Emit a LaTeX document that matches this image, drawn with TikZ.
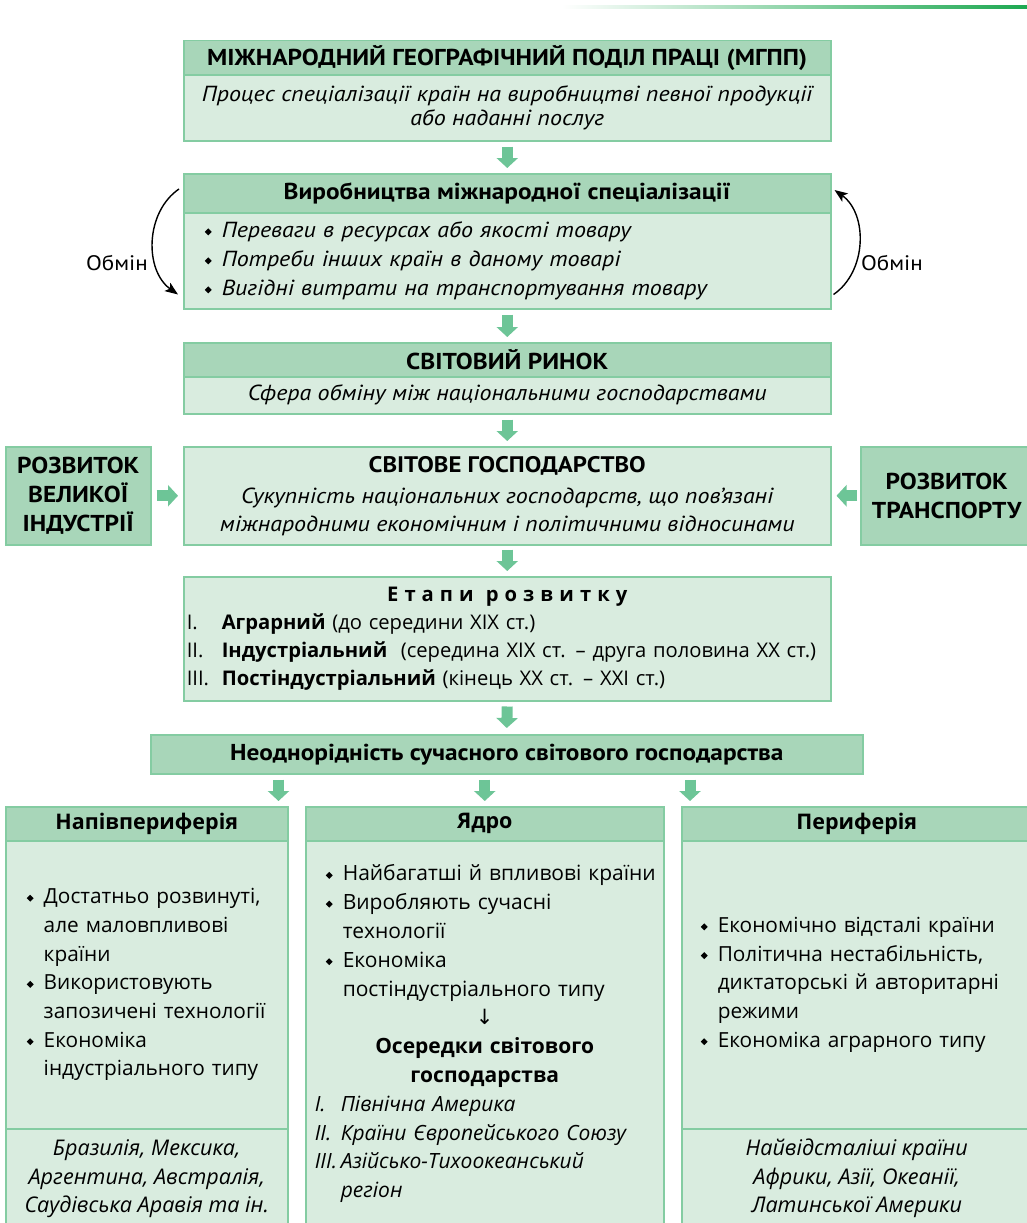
\documentclass[tikz,border=0pt]{standalone}
\usepackage{fontspec}
\setmainfont{PT Sans}[FakeStretch=1.1]
\newfontfamily\osans{Open Sans}
\newfontfamily\osanssp[LetterSpace=30]{Open Sans}
\newfontfamily\symfont{DejaVu Sans}
\usetikzlibrary{arrows.meta}
\usetikzlibrary{calc}
\definecolor{ghead}{HTML}{A8D6B9}
\definecolor{gbody}{HTML}{D9ECDF}
\definecolor{gline}{HTML}{84CCA2}
\definecolor{garr}{HTML}{6DC597}
\definecolor{gtop}{HTML}{1DA851}
\newcommand{\dia}{\raisebox{2.1pt}{\rotatebox{45}{\rule{4.9pt}{4.9pt}}}}
\newcommand{\itm}[1]{\mbox{\makebox[17pt][l]{\dia}#1}}
\newcommand{\cnt}[1]{\mbox{\hspace*{17pt}#1}}
\tikzset{
    hbox/.style = {rectangle, draw=gline, fill=ghead, line width=1.5pt, anchor=north west, align=center, inner sep=0pt, font=\fontsize{23}{29}\selectfont\bfseries},
    bbox/.style = {rectangle, draw=gline, fill=gbody, line width=1.5pt, anchor=north west, align=center, inner sep=0pt, font=\fontsize{21.8}{24}\selectfont\itshape},
    lhbox/.style = {hbox, font=\osans\fontsize{21.5}{24}\selectfont\bfseries},
    lbbox/.style = {bbox, align=left, font=\osans\fontsize{20.8}{28.7}\selectfont},
    lfbox/.style = {bbox, font=\osans\fontsize{21.6}{28.5}\selectfont\itshape},
    garrow/.style = {-{Triangle[length=10pt,width=21pt]}, line width=11pt, draw=garr},
    obmin/.style = {-{Stealth[length=13pt,width=10pt,inset=3pt]}, line width=1.4pt, black},
}
\begin{document}
\begin{tikzpicture}[x=1pt,y=-1pt]
\useasboundingbox (0,0) rectangle (1027,1223);
\shade[left color=white, right color=gtop] (562,6) rectangle (1027,9);
%
\node[hbox, minimum width=647pt, minimum height=34pt] (mgpp) at (183,40) {МІЖНАРОДНИЙ ГЕОГРАФІЧНИЙ ПОДІЛ ПРАЦІ (МГПП)};
\node[bbox, minimum width=647pt, minimum height=66pt] (mgppb) at (183,74) {Процес спеціалізації країн на виробництві певної продукції\\або наданні послуг};
\node[hbox, minimum width=647pt, minimum height=39pt] (vyr) at (183,173) {Виробництва міжнародної спеціалізації};
\node[bbox, align=left, text width=605pt, inner xsep=21pt, minimum width=647pt, minimum height=96pt, font=\fontsize{21.8}{29}\selectfont\itshape] (vyrb) at (183,212) {\itm{Переваги в ресурсах або якості товару}\\\itm{Потреби інших країн в даному товарі}\\\itm{Вигідні витрати на транспортування товару}};
\node[font=\fontsize{21}{24}\selectfont] (obl) at (117,263) {Обмін};
\node[font=\fontsize{21}{24}\selectfont] (obr) at (892,263) {Обмін};
\node[hbox, minimum width=647pt, minimum height=34pt] (rynok) at (183,342) {СВІТОВИЙ РИНОК};
\node[bbox, minimum width=647pt, minimum height=37pt] (rynokb) at (183,376) {Сфера обміну між національними господарствами};
\node[bbox, minimum width=647pt, minimum height=98pt, font=\fontsize{21.8}{28}\selectfont] (hosp) at (183,446) {{\fontsize{22.5}{28}\selectfont\bfseries СВІТОВЕ ГОСПОДАРСТВО}\\[3pt]{\itshape Сукупність національних господарств, що пов’язані}\\{\itshape міжнародними економічним і політичними відносинами}};
\node[hbox, minimum width=145pt, minimum height=98pt, font=\fontsize{23}{29}\selectfont\bfseries] (ind) at (5,446) {РОЗВИТОК\\ВЕЛИКОЇ\\ІНДУСТРІЇ};
\node[hbox, minimum width=172pt, minimum height=98pt, font=\fontsize{23}{29}\selectfont\bfseries] (trans) at (860,446) {РОЗВИТОК\\ТРАНСПОРТУ};
\node[bbox, align=left, text width=641pt, inner xsep=3pt, minimum width=647pt, minimum height=124pt, font=\osans\fontsize{20.2}{28}\selectfont] (etapy) at (183,576) {\makebox[641pt][c]{\osanssp\bfseries Етапи\hspace{12pt}розвитку}\\\makebox[35pt][l]{I.}\textbf{Аграрний} (до середини XIX ст.)\\\makebox[35pt][l]{II.}\textbf{Індустріальний}\ \ (середина XIX ст. – друга половина XX ст.)\\\makebox[35pt][l]{III.}\textbf{Постіндустріальний} (кінець XX ст. – XXI ст.)};
\node[hbox, minimum width=712pt, minimum height=39pt] (neod) at (150,734) {Неоднорідність сучасного світового господарства};
%
\node[lhbox, minimum width=282pt, minimum height=34pt] (nap) at (5,806) {Напівпериферія};
\node[lbbox, text width=240pt, inner xsep=21pt, minimum width=282pt, minimum height=288pt] (napb) at (5,840) {\itm{Достатньо розвинуті,}\\\cnt{але маловпливові}\\\cnt{країни}\\\itm{Використовують}\\\cnt{запозичені технології}\\\itm{Економіка}\\\cnt{індустріального типу}};
\node[lfbox, minimum width=282pt, minimum height=100pt] (napf) at (5,1128) {Бразилія, Мексика,\\Аргентина, Австралія,\\Саудівська Аравія та ін.};
\node[lhbox, minimum width=358pt, minimum height=34pt] (yad) at (305,806) {Ядро};
\node[lbbox, text width=340pt, inner xsep=9pt, minimum width=358pt, minimum height=386pt, font=\osans\fontsize{21}{28.8}\selectfont] (yadb) at (305,840) {\hspace*{11pt}\itm{Найбагатші й впливові країни}\\\hspace*{11pt}\itm{Виробляють сучасні}\\\hspace*{11pt}\cnt{технології}\\\hspace*{11pt}\itm{Економіка}\\\hspace*{11pt}\cnt{постіндустріального типу}\\\makebox[340pt][c]{\symfont ↓}\\\makebox[340pt][c]{\bfseries Осередки світового}\\\makebox[340pt][c]{\bfseries господарства}\\{\itshape\makebox[26pt][l]{I.}Північна Америка}\\{\itshape\makebox[26pt][l]{II.}Країни Європейського Союзу}\\{\itshape\makebox[26pt][l]{III.}Азійсько-Тихоокеанський}\\{\itshape\hspace*{26pt}регіон}};
\node[lhbox, minimum width=350pt, minimum height=34pt] (per) at (681,806) {Периферія};
\node[lbbox, text width=312pt, inner xsep=19pt, minimum width=350pt, minimum height=288pt] (perb) at (681,840) {\itm{Економічно відсталі країни}\\\itm{Політична нестабільність,}\\\cnt{диктаторські й авторитарні}\\\cnt{режими}\\\itm{Економіка аграрного типу}};
\node[lfbox, minimum width=350pt, minimum height=100pt] (perf) at (681,1128) {Найвідсталіші країни\\Африки, Азії, Океанії,\\Латинської Америки};
%
\draw[garrow] ([yshift=-5pt]mgppb.south) -- ([yshift=5pt]vyr.north);
\draw[garrow] ([yshift=-5pt]vyrb.south) -- ([yshift=5pt]rynok.north);
\draw[garrow] ([yshift=-5pt]rynokb.south) -- ([yshift=5pt]hosp.north);
\draw[garrow] ([xshift=5pt]ind.east) -- ([xshift=-5pt]hosp.west);
\draw[garrow] ([xshift=-3pt]trans.west) -- ([xshift=5pt]hosp.east);
\draw[garrow] ([yshift=-4pt]hosp.south) -- ([yshift=5pt]etapy.north);
\draw[garrow] ([yshift=-5pt]etapy.south) -- ([yshift=6pt]neod.north);
\draw[garrow] ($(nap.north east |- neod.south)+(-10,5)$) -- ($(nap.north east)+(-10,-5)$);
\draw[garrow] ($(yad.north |- neod.south)+(0,5)$) -- ($(yad.north)+(0,-5)$);
\draw[garrow] ($(per.north west |- neod.south)+(9,5)$) -- ($(per.north west)+(9,-5)$);
%
\draw[obmin] ($(vyr.north west)+(-4,16)$) to[bend right=55] ($(vyrb.south west)+(-5,-15)$);
\draw[obmin] ($(vyrb.south east)+(2,-15)$) to[bend right=55] ($(vyr.north east)+(3,17)$);
\end{tikzpicture}
\end{document}
